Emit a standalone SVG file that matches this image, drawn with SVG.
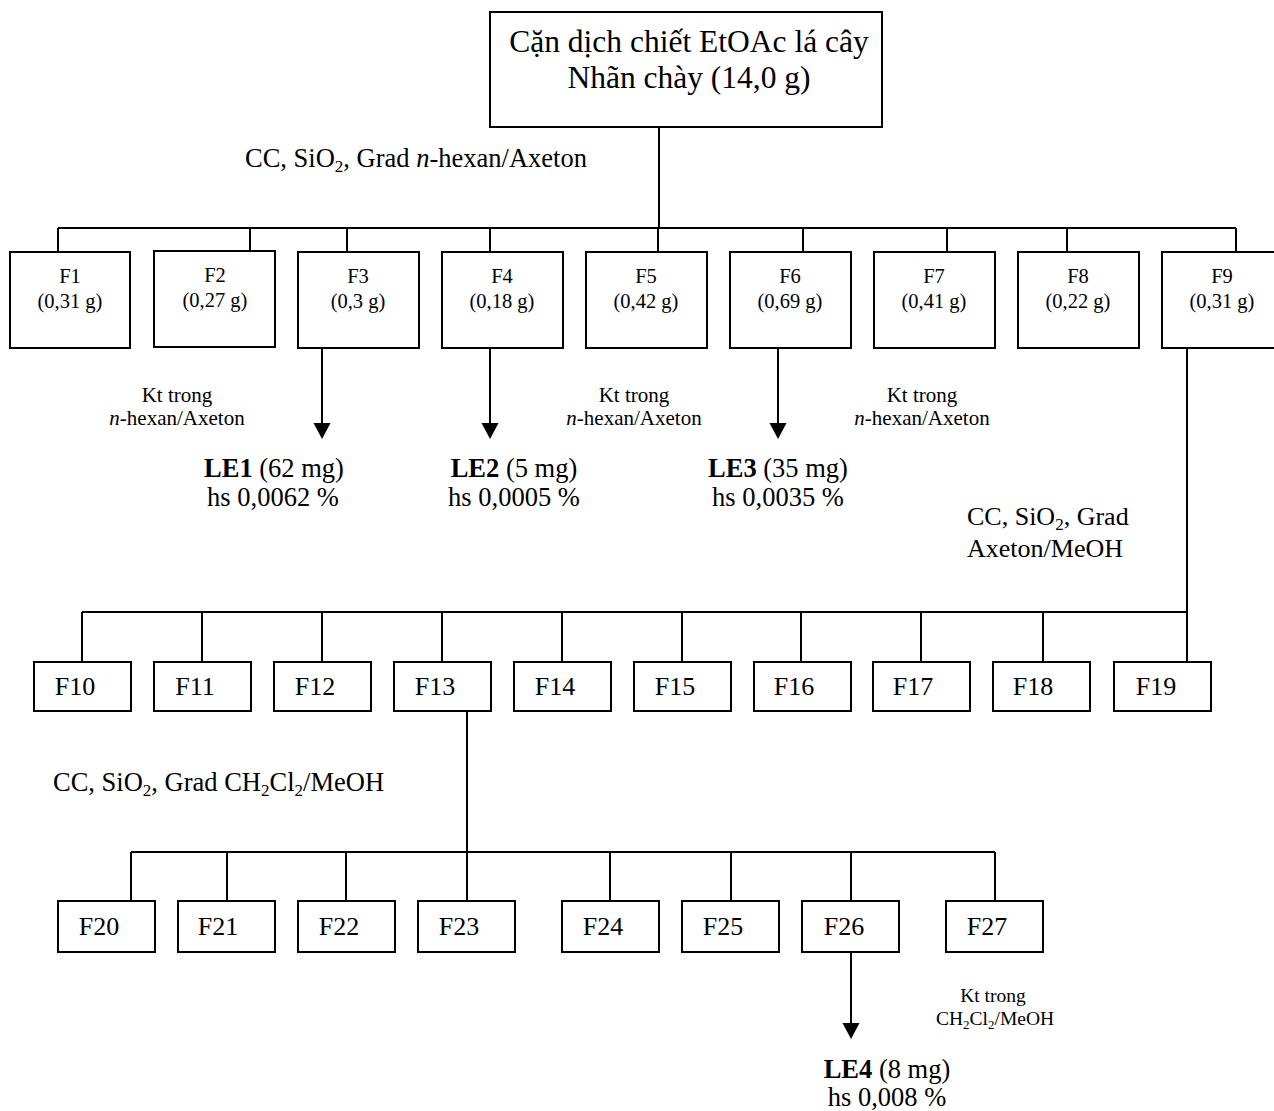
<svg xmlns="http://www.w3.org/2000/svg" width="1274" height="1111" viewBox="0 0 1274 1111">
  <style>
    text { font-family: "Liberation Serif", "Times New Roman", serif; fill: #000; }
    .box { fill: #fff; stroke: #000; stroke-width: 2; }
    .wire { fill: none; stroke: #000; stroke-width: 2; }
    .head { fill: #000; stroke: none; }
    .title { font-size: 31.5px; text-anchor: middle; }
    .fs { font-size: 20.5px; text-anchor: middle; }
    .fm { font-size: 26px; text-anchor: middle; }
    .note { font-size: 21px; text-anchor: middle; }
    .note2 { font-size: 19.5px; text-anchor: middle; }
    .cc { font-size: 26.5px; }
    .cc2 { font-size: 26px; }
    .res { font-size: 26.5px; text-anchor: middle; }
    .sub { font-size: 17px; }
    .subs { font-size: 13px; }
  </style>

  <rect width="1274" height="1111" fill="#fff"/>

  <!-- connectors -->
  <g id="connectors">
    <g class="wire">
      <!-- extract to first fractions -->
      <path d="M659,127 V228"/>
      <path d="M58,228 H1236"/>
      <path d="M58,228 V252 M250,228 V251 M347,228 V252 M490,228 V252 M658,228 V252 M803,228 V252 M947,228 V252 M1067,228 V252 M1236,228 V252"/>
      <!-- crystallisation -->
      <path d="M322,348 V424"/>
      <path d="M490,348 V424"/>
      <path d="M778,348 V424"/>
      <!-- F9 column -->
      <path d="M1187,348 V662"/>
      <path d="M82,612 H1187"/>
      <path d="M82,612 V662 M202,612 V662 M322,612 V662 M442,612 V662 M562,612 V662 M682,612 V662 M801,612 V662 M921,612 V662 M1043,612 V662"/>
      <!-- F13 column -->
      <path d="M467,711 V852"/>
      <path d="M131,852 H995"/>
      <path d="M131,852 V901 M227,852 V901 M346,852 V901 M467,852 V901 M610,852 V901 M731,852 V901 M851,852 V901 M995,852 V901"/>
      <path d="M851,952 V1024"/>
    </g>
    <path class="head" d="M313.5,423 L330.5,423 L322,439 Z"/>
    <path class="head" d="M481.5,423 L498.5,423 L490,439 Z"/>
    <path class="head" d="M769.5,423 L786.5,423 L778,439 Z"/>
    <path class="head" d="M842.5,1023 L859.5,1023 L851,1039 Z"/>
  </g>

  <!-- crude extract -->
  <g id="root">
    <rect class="box" x="490" y="12" width="392" height="115"/>
    <text class="title" x="689" y="52">Cặn dịch chiết EtOAc lá cây</text>
    <text class="title" x="689" y="88">Nhãn chày (14,0 g)</text>
  </g>

  <text class="cc" x="245" y="167">CC, SiO<tspan class="sub" dy="5">2</tspan><tspan dy="-5">, Grad </tspan><tspan font-style="italic">n</tspan>-hexan/Axeton</text>

  <!-- first-level fractions -->
  <g id="F1"><rect class="box" x="10" y="252" width="120" height="96"/><text class="fs" x="70" y="283">F1</text><text class="fs" x="70" y="308">(0,31 g)</text></g>
  <g id="F2"><rect class="box" x="154" y="251" width="121" height="96"/><text class="fs" x="215" y="282">F2</text><text class="fs" x="215" y="307">(0,27 g)</text></g>
  <g id="F3"><rect class="box" x="298" y="252" width="121" height="96"/><text class="fs" x="358" y="283">F3</text><text class="fs" x="358" y="308">(0,3 g)</text></g>
  <g id="F4"><rect class="box" x="442" y="252" width="121" height="96"/><text class="fs" x="502" y="283">F4</text><text class="fs" x="502" y="308">(0,18 g)</text></g>
  <g id="F5"><rect class="box" x="586" y="252" width="121" height="96"/><text class="fs" x="646" y="283">F5</text><text class="fs" x="646" y="308">(0,42 g)</text></g>
  <g id="F6"><rect class="box" x="730" y="252" width="121" height="96"/><text class="fs" x="790" y="283">F6</text><text class="fs" x="790" y="308">(0,69 g)</text></g>
  <g id="F7"><rect class="box" x="874" y="252" width="121" height="96"/><text class="fs" x="934" y="283">F7</text><text class="fs" x="934" y="308">(0,41 g)</text></g>
  <g id="F8"><rect class="box" x="1018" y="252" width="121" height="96"/><text class="fs" x="1078" y="283">F8</text><text class="fs" x="1078" y="308">(0,22 g)</text></g>
  <g id="F9"><rect class="box" x="1162" y="252" width="121" height="96"/><text class="fs" x="1222" y="283">F9</text><text class="fs" x="1222" y="308">(0,31 g)</text></g>

  <!-- crystallisation notes -->
  <g id="note1"><text class="note" x="177" y="402">Kt trong</text><text class="note" x="177" y="425"><tspan font-style="italic">n</tspan>-hexan/Axeton</text></g>
  <g id="note2"><text class="note" x="634" y="402">Kt trong</text><text class="note" x="634" y="425"><tspan font-style="italic">n</tspan>-hexan/Axeton</text></g>
  <g id="note3"><text class="note" x="922" y="402">Kt trong</text><text class="note" x="922" y="425"><tspan font-style="italic">n</tspan>-hexan/Axeton</text></g>

  <!-- isolated compounds -->
  <g id="LE1"><text class="res" x="274" y="477"><tspan font-weight="bold">LE1</tspan> (62 mg)</text><text class="res" x="273" y="506">hs 0,0062 %</text></g>
  <g id="LE2"><text class="res" x="514" y="477"><tspan font-weight="bold">LE2</tspan> (5 mg)</text><text class="res" x="514" y="506">hs 0,0005 %</text></g>
  <g id="LE3"><text class="res" x="778" y="477"><tspan font-weight="bold">LE3</tspan> (35 mg)</text><text class="res" x="778" y="506">hs 0,0035 %</text></g>

  <text class="cc2" x="967" y="525">CC, SiO<tspan class="sub" dy="5">2</tspan><tspan dy="-5">, Grad</tspan></text>
  <text class="cc2" x="967" y="557">Axeton/MeOH</text>

  <!-- second-level fractions -->
  <g id="F10"><rect class="box" x="34" y="662" width="97" height="49"/><text class="fm" x="75" y="695">F10</text></g>
  <g id="F11"><rect class="box" x="154" y="662" width="97" height="49"/><text class="fm" x="195" y="695">F11</text></g>
  <g id="F12"><rect class="box" x="274" y="662" width="97" height="49"/><text class="fm" x="315" y="695">F12</text></g>
  <g id="F13"><rect class="box" x="394" y="662" width="97" height="49"/><text class="fm" x="435" y="695">F13</text></g>
  <g id="F14"><rect class="box" x="514" y="662" width="97" height="49"/><text class="fm" x="555" y="695">F14</text></g>
  <g id="F15"><rect class="box" x="634" y="662" width="97" height="49"/><text class="fm" x="675" y="695">F15</text></g>
  <g id="F16"><rect class="box" x="754" y="662" width="97" height="49"/><text class="fm" x="794" y="695">F16</text></g>
  <g id="F17"><rect class="box" x="873" y="662" width="97" height="49"/><text class="fm" x="913" y="695">F17</text></g>
  <g id="F18"><rect class="box" x="993" y="662" width="97" height="49"/><text class="fm" x="1033" y="695">F18</text></g>
  <g id="F19"><rect class="box" x="1114" y="662" width="97" height="49"/><text class="fm" x="1156" y="695">F19</text></g>

  <text class="cc" x="53" y="791">CC, SiO<tspan class="sub" dy="5">2</tspan><tspan dy="-5">, Grad CH</tspan><tspan class="sub" dy="5">2</tspan><tspan dy="-5">Cl</tspan><tspan class="sub" dy="5">2</tspan><tspan dy="-5">/MeOH</tspan></text>

  <!-- third-level fractions -->
  <g id="F20"><rect class="box" x="58" y="901" width="97" height="51"/><text class="fm" x="99" y="935">F20</text></g>
  <g id="F21"><rect class="box" x="178" y="901" width="97" height="51"/><text class="fm" x="218" y="935">F21</text></g>
  <g id="F22"><rect class="box" x="298" y="901" width="97" height="51"/><text class="fm" x="339" y="935">F22</text></g>
  <g id="F23"><rect class="box" x="418" y="901" width="97" height="51"/><text class="fm" x="459" y="935">F23</text></g>
  <g id="F24"><rect class="box" x="562" y="901" width="97" height="51"/><text class="fm" x="603" y="935">F24</text></g>
  <g id="F25"><rect class="box" x="682" y="901" width="97" height="51"/><text class="fm" x="723" y="935">F25</text></g>
  <g id="F26"><rect class="box" x="802" y="901" width="97" height="51"/><text class="fm" x="844" y="935">F26</text></g>
  <g id="F27"><rect class="box" x="946" y="901" width="97" height="51"/><text class="fm" x="987" y="935">F27</text></g>

  <g id="note4"><text class="note2" x="993" y="1002">Kt trong</text><text class="note2" x="995" y="1025">CH<tspan class="subs" dy="4">2</tspan><tspan dy="-4">Cl</tspan><tspan class="subs" dy="4">2</tspan><tspan dy="-4">/MeOH</tspan></text></g>

  <g id="LE4"><text class="res" x="887" y="1078"><tspan font-weight="bold">LE4</tspan> (8 mg)</text><text class="res" x="887" y="1106">hs 0,008 %</text></g>
</svg>
